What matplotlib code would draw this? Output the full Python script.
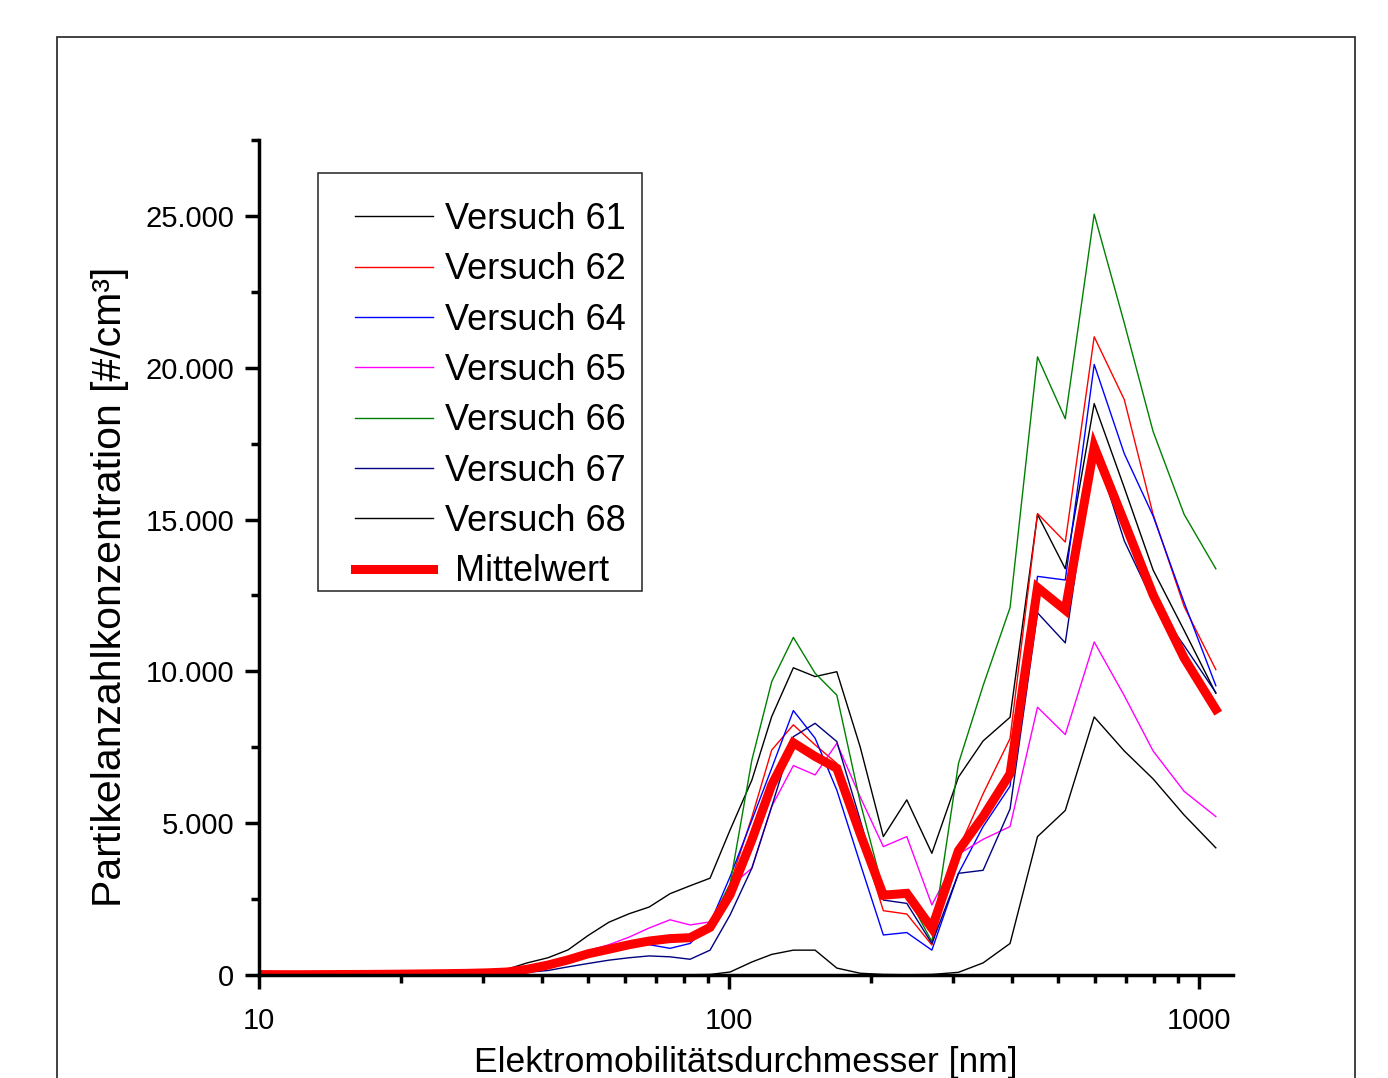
import matplotlib
matplotlib.use("Agg")
import matplotlib.pyplot as plt
from matplotlib.patches import Rectangle
from matplotlib.ticker import FixedLocator, FuncFormatter, MultipleLocator, NullFormatter
import numpy as np

plt.rcParams['font.family'] = ['Liberation Sans', 'DejaVu Sans']

# Particle diameter [nm]
diameter = [10.2, 11.25, 12.46, 13.75, 15.17, 16.81, 18.54, 20.45, 22.66, 25.0, 27.57,
            30.55, 33.7, 37.18, 41.2, 45.45, 50.1, 55.5, 61.3, 67.6, 74.9, 82.6, 91.1,
            100.5, 111.8, 123.2, 137.0, 152.4, 169.5, 190.0, 212.9, 238.8, 270.0, 307.6,
            347.0, 396.0, 453.0, 519.0, 598.0, 693.0, 798.0, 929.0, 1085.0]

v61 = [10, 10, 10, 15, 15, 20, 25, 30, 40, 50, 70, 110, 190, 400, 570, 830, 1300, 1740,
       2020, 2240, 2680, 2940, 3190, 4780, 6420, 8510, 10120, 9830, 9990, 7520, 4560,
       5770, 4010, 6520, 7710, 8490, 15170, 13380, 18820, 16050, 13340, 11350, 9280]
v62 = [20, 15, 15, 20, 25, 25, 30, 35, 45, 55, 65, 85, 120, 200, 330, 520, 720, 900,
       1050, 1150, 1220, 1250, 1620, 3000, 5200, 7410, 8240, 7580, 6970, 4560, 2120,
       2010, 990, 4140, 5970, 7790, 15200, 14260, 21020, 18950, 15170, 12140, 10060]
v64 = [15, 10, 10, 15, 20, 20, 25, 30, 40, 50, 60, 75, 110, 180, 300, 480, 680, 820,
       950, 1000, 880, 1040, 1700, 3240, 5100, 6810, 8710, 7800, 6090, 3680, 1320,
       1400, 820, 3350, 4890, 6220, 13130, 13010, 20110, 17170, 15120, 12270, 9530]
v65 = [20, 15, 15, 20, 25, 30, 35, 40, 50, 60, 75, 95, 140, 220, 350, 550, 800, 1000,
       1250, 1550, 1820, 1650, 1750, 2910, 3520, 5550, 6900, 6590, 7630, 5870, 4230,
       4560, 2310, 3980, 4470, 4890, 8820, 7920, 10970, 9200, 7380, 6050, 5220]
v66 = [20, 15, 15, 20, 25, 25, 30, 35, 45, 55, 65, 85, 120, 190, 300, 480, 700, 850,
       980, 1100, 1180, 1230, 1720, 3000, 7080, 9660, 11120, 9940, 9220, 5700, 2780,
       2640, 1100, 6970, 9530, 12100, 20360, 18320, 25060, 21470, 17900, 15170, 13380]
v67 = [5, 5, 5, 5, 5, 10, 10, 10, 15, 20, 25, 35, 50, 90, 150, 270, 380, 490,
       570, 630, 600, 520, 820, 1980, 3520, 5550, 7850, 8290, 7690, 5110, 2470,
       2360, 1040, 3350, 3450, 5470, 11930, 10940, 17400, 14300, 12300, 10850, 9300]
v68 = [5, 5, 5, 5, 5, 5, 5, 5, 5, 5, 5, 5, 5, 5, 5, 5, 5, 5,
       5, 5, 5, 10, 20, 100, 430, 680, 820, 820, 230, 60, 20,
       10, 20, 90, 400, 1040, 4560, 5420, 8500, 7380, 6460, 5270, 4190]
mittelwert = [15, 12, 12, 15, 18, 20, 25, 30, 38, 46, 55, 72, 100, 190, 330, 500, 700, 850,
              1000, 1120, 1200, 1230, 1570, 2650, 4450, 6260, 7650, 7200, 6810, 4660, 2630,
              2690, 1540, 4100, 5220, 6630, 12760, 12020, 17400, 14920, 12520, 10440, 8750]

series_labels = ["Versuch 61", "Versuch 62", "Versuch 64", "Versuch 65",
                 "Versuch 66", "Versuch 67", "Versuch 68"]
series_values = [v61, v62, v64, v65, v66, v67, v68]
series_colors = ["#000000", "#ff0000", "#0000ff", "#ff00ff", "#008000", "#000080", "#000000"]

fig = plt.figure(figsize=(13.88, 10.78), dpi=100)
ax = fig.add_axes([0.1866, 0.0955, 0.7017, 0.7746])

handles = []
for lab, vals, col in zip(series_labels, series_values, series_colors):
    h, = ax.plot(diameter, vals, color=col, lw=1.0, label=lab, zorder=3)
    handles.append(h)
hm, = ax.plot(diameter, mittelwert, color="#ff0000", lw=6.5, label=" Mittelwert",
              zorder=4, solid_joinstyle='miter')
handles.append(hm)

ax.set_xscale('log')
ax.set_xlim(10, 1180)
ax.set_ylim(0, 27500)

ax.xaxis.set_major_locator(FixedLocator([10, 100, 1000]))
ax.xaxis.set_major_formatter(FuncFormatter(lambda v, p: f"{int(round(v))}"))
minor = [m * d for d in (10, 100) for m in range(2, 10)]
ax.xaxis.set_minor_locator(FixedLocator(minor))
ax.xaxis.set_minor_formatter(NullFormatter())

ax.yaxis.set_major_locator(MultipleLocator(5000))
ax.yaxis.set_minor_locator(MultipleLocator(2500))
ax.yaxis.set_major_formatter(FuncFormatter(lambda v, p: f"{int(v):,}".replace(",", ".")))

for s in ("top", "right"):
    ax.spines[s].set_visible(False)
for s in ("left", "bottom"):
    ax.spines[s].set_linewidth(2.5)
    ax.spines[s].set_zorder(5)

ax.tick_params(which='major', direction='out', length=10, width=2.5, labelsize=21)
ax.tick_params(which='minor', direction='out', length=6, width=2.5)
ax.tick_params(axis='y', which='major', pad=8)
ax.tick_params(axis='x', which='major', pad=13)

ax.set_xlabel("Elektromobilitätsdurchmesser [nm]", fontsize=25.5)
ax.xaxis.set_label_coords(0.5, -0.085)
ax.set_ylabel("Partikelanzahlkonzentration [#/cm³]", fontsize=29.5)
ax.yaxis.set_label_coords(-0.133, 0.465)

leg = ax.legend(handles=handles, loc='upper left', bbox_to_anchor=(0.0986, 0.926),
                frameon=False, fontsize=26, borderpad=0, borderaxespad=0,
                handlelength=2.16, handletextpad=0.33, labelspacing=0.425)
leg.set_zorder(6)

# legend frame
ax.add_patch(Rectangle((0.0606, 0.4599), 0.3326, 0.5006, transform=ax.transAxes,
                       fill=False, edgecolor='#222222', lw=1.1, zorder=6, clip_on=False))

# outer frame
fig.patches.append(Rectangle((0.041, -0.2), 0.935, 1.1657, transform=fig.transFigure,
                             fill=False, edgecolor='#333333', lw=1.3))

fig.savefig("out.png", dpi=100)
